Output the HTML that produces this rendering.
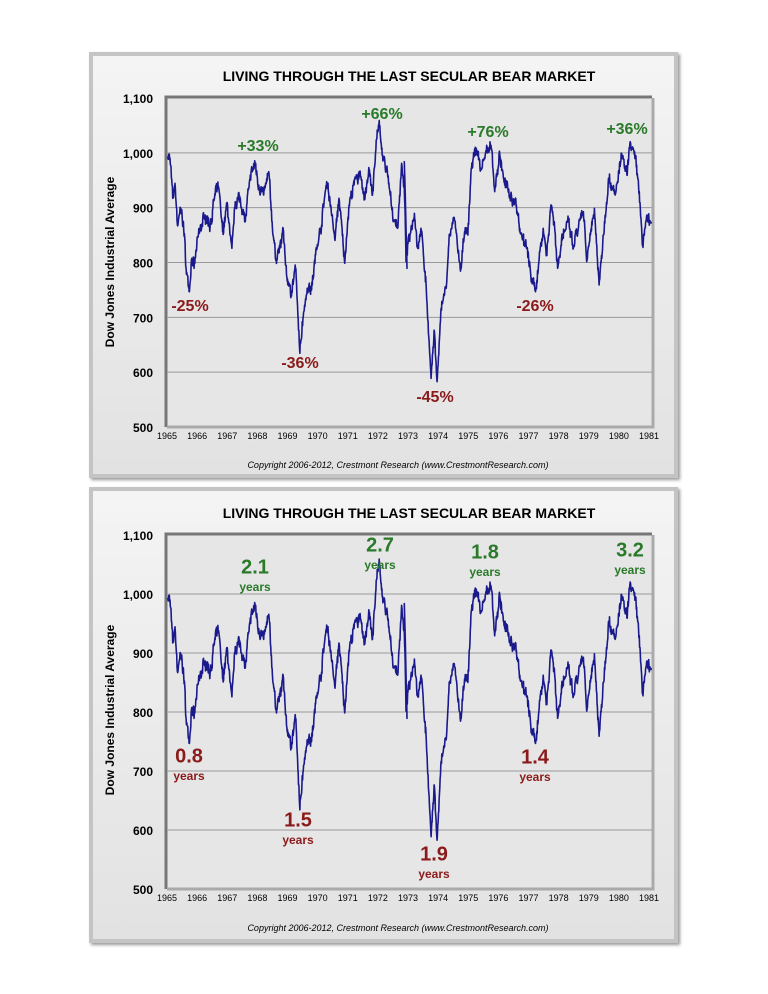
<!DOCTYPE html>
<html><head><meta charset="utf-8"><style>
body{margin:0;width:768px;height:994px;background:#fff;position:relative;overflow:hidden;font-family:"Liberation Sans",Arial,sans-serif}
.frame{position:absolute;left:89px;width:589px;background:linear-gradient(#f4f4f4,#e2e2e2);border:4px solid #c4c4c4;box-shadow:2px 2px 3px #999;box-sizing:border-box}
.t{position:absolute;white-space:nowrap;transform:translate(-50%,-50%);font-weight:bold}
</style></head><body>
<div class="frame" style="top:52px;height:426px"></div>
<div class="frame" style="top:487px;height:456px"></div>
<svg id="s" width="768" height="994" style="position:absolute;left:0;top:0"></svg>
<div class="t" style="left:409px;top:76px;font-size:14px">LIVING THROUGH THE LAST SECULAR BEAR MARKET</div>
<div class="t" style="left:409px;top:513px;font-size:14px">LIVING THROUGH THE LAST SECULAR BEAR MARKET</div>
<div class="t" style="left:110px;top:262px;font-size:12px;transform:translate(-50%,-50%) rotate(-90deg)">Dow Jones Industrial Average</div>
<div class="t" style="left:110px;top:710px;font-size:12px;transform:translate(-50%,-50%) rotate(-90deg)">Dow Jones Industrial Average</div>
<div class="t" style="left:398px;top:465px;font-size:9px;font-weight:normal;font-style:italic">Copyright 2006-2012, Crestmont Research (www.CrestmontResearch.com)</div>
<div class="t" style="left:398px;top:928px;font-size:9px;font-weight:normal;font-style:italic">Copyright 2006-2012, Crestmont Research (www.CrestmontResearch.com)</div>
<div id="lab"></div>
<script>
var NS="http://www.w3.org/2000/svg",s=document.getElementById('s');
function el(n,a){var e=document.createElementNS(NS,n);for(var k in a)e.setAttribute(k,a[k]);s.appendChild(e);return e;}
var z3=[[22,185],[30,190],[38,310],[45,265],[52,390],[62,340],[70,380],[78,520],[88,590],[95,490],[102,520],[110,450],[120,400],[135,360],[150,390],[165,300],[175,275],[188,410],[200,330],[215,460],[225,320],[240,310],[255,380],[270,240],[285,205],[295,270],[310,300],[325,230],[335,380],[345,490],[358,460],[368,400],[378,540],[392,590],[405,520],[418,775],[425,680],[432,630],[440,580],[455,570],[465,480],[480,400],[498,260],[510,330],[522,430],[535,310],[552,505],[565,330],[580,270],[595,230],[610,315],[625,225],[635,300],[648,130],[656,95],[665,180],[680,240],[695,360],[710,400],[722,205],[730,280],[738,520]];
var z4=[[30,420],[10+30,200],[15+30,500],[25+30,420],[40+30,355],[50+30,460],[60+30,400],[75+30,570],[90+30,850],[100+30,710],[108+30,860],[120+30,640],[135+30,580],[145+30,420],[160+30,375],[170+30,470],[180+30,520],[190+30,410],[200+30,420],[210+30,220],[225+30,160],[240+30,220],[255+30,170],[270+30,160],[280+30,290],[295+30,175],[310+30,270],[330+30,300],[345+30,330],[355+30,400],[375+30,460],[390+30,550],[402+30,590],[415+30,470],[425+30,400],[435+30,480],[448+30,330],[458+30,380],[468+30,520],[480+30,430],[500+30,380],[515+30,460],[530+30,400],[545+30,350],[555+30,500],[570+30,380],[578+30,340],[592+30,570],[605+30,420],[620+30,250],[640+30,300],[660+30,180],[675+30,240],[685+30,140],[698+30,170],[712+30,290],[722+30,450],[735+30,360],[748+30,380]];
var P=[];z3.forEach(function(p){P.push([160+p[0]/3,95+p[1]/3]);});
z4.forEach(function(p,i){if(i>0)P.push([400+(p[0]-30)/3,95+p[1]/3]);});
var D=P.map(function(p){return[(p[0]-167)/483,1100-(p[1]-98)/54.83*100];});
var seed=7;function r(){seed=(seed*16807)%2147483647;return seed/2147483647-0.5;}
var Q=[],w=0;for(var i=0;i<D.length-1;i++){var a=D[i],b=D[i+1],n=Math.max(3,Math.round((b[0]-a[0])*483*3));for(var j=0;j<n;j++){var f=j/n;w=w*0.6+r()*14;Q.push([a[0]+(b[0]-a[0])*f,a[1]+(b[1]-a[1])*f+(j?w+r()*12:0)]);}}Q.push(D[D.length-1]);
function chart(top,bot){var L=167,R=652,h=(bot-top)/600;
 el('rect',{x:L,y:top,width:R-L,height:bot-top,fill:'#e6e6e6'});
 el('path',{d:'M'+(L-1)+' '+bot+'V'+(top-1)+'H'+R,stroke:'#777',"stroke-width":3,fill:'none'});
 el('path',{d:'M'+L+' '+bot+'H'+(R+1)+'V'+top,stroke:'#aaa',"stroke-width":3,fill:'none'});
 for(var v=600;v<=1000;v+=100){var y=bot-(v-500)*h;el('line',{x1:L,x2:R,y1:y,y2:y,stroke:'#999',"stroke-width":1});}
 for(var v=500;v<=1100;v+=100){var y=bot-(v-500)*h;var t=el('text',{x:153,y:y+5,"text-anchor":"end","font-size":12,"font-weight":"bold","font-family":"Liberation Sans"});t.textContent=(v>=1000?'1,'+String(v-1000).padStart(3,'0'):v);}
 for(var yr=1965;yr<=1981;yr++){var x=L+(yr-1965)*(R-3-L)/16;var t=el('text',{x:x,y:bot+12,"text-anchor":"middle","font-size":9,"font-family":"Liberation Sans"});t.textContent=yr;}
 el('polyline',{points:Q.map(function(q){return (L+q[0]*(R-L)).toFixed(1)+','+(bot-(q[1]-500)*h).toFixed(1);}).join(' '),fill:'none',stroke:'#1a1a8c',"stroke-width":1.6,"stroke-linejoin":"round"});
}
chart(98,427);chart(535,889);
var G='#2a7a2a',Rd='#8b1a1a',H='';
function L(x,y,t,c,fs){H+='<div class="t" style="left:'+x+'px;top:'+y+'px;color:'+c+';font-size:'+fs+'px">'+t+'</div>';}
L(258,147,'+33%',G,16);L(382,115,'+66%',G,16);L(488,133,'+76%',G,16);L(627,130,'+36%',G,16);
L(190,307,'-25%',Rd,16);L(300,364,'-36%',Rd,16);L(435,398,'-45%',Rd,16);L(535,307,'-26%',Rd,16);
[[255,568,'2.1',G],[380,546,'2.7',G],[485,553,'1.8',G],[630,551,'3.2',G],[189,757,'0.8',Rd],[298,821,'1.5',Rd],[434,855,'1.9',Rd],[535,758,'1.4',Rd]].forEach(function(a){L(a[0],a[1],a[2],a[3],20);L(a[0],a[1]+19,'years',a[3],12);});
document.getElementById('lab').innerHTML=H;
</script>
</body></html>
